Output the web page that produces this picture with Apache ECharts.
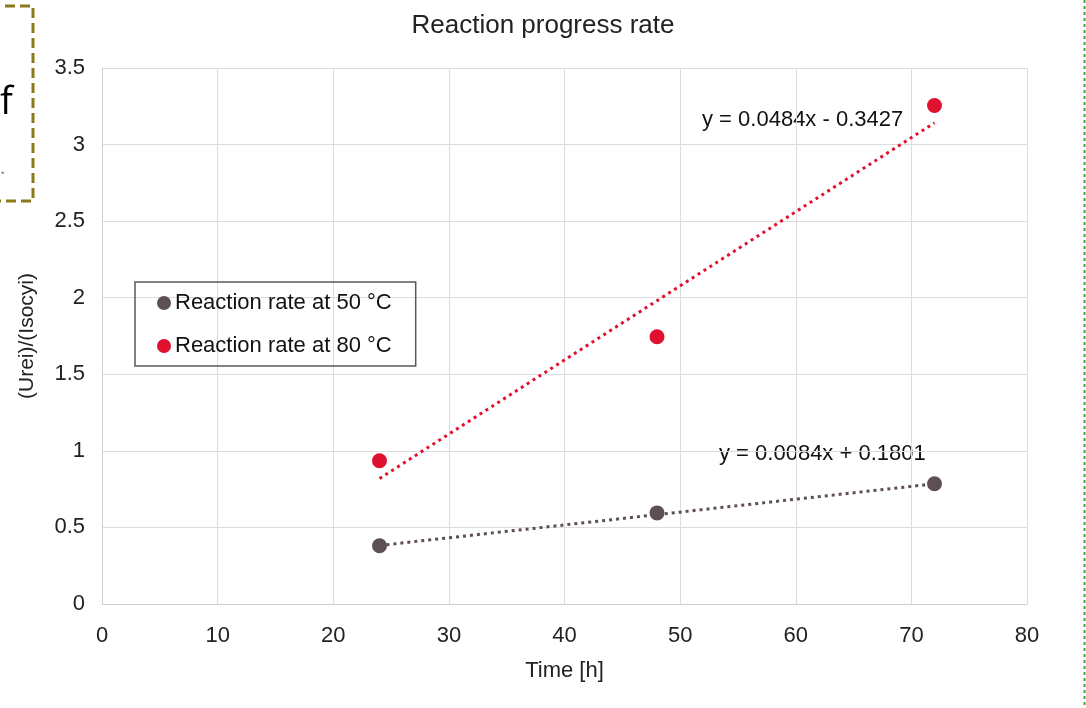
<!DOCTYPE html>
<html style="height: 100%; margin: 0">
<head>
<meta charset="UTF-8">
<title>Reaction progress rate</title>
</head>
<body style="height: 100%; margin: 0; background: #fff">
<div id="container" style="height:100%"></div>
<script type="text/javascript" src="https://cdn.jsdelivr.net/npm/echarts@6/dist/echarts.min.js"></script>
<script type="text/javascript">
	// measured points
	var rate50 = [[24, 0.38], [48, 0.595], [72, 0.785]];
	var rate80 = [[24, 0.935], [48, 1.745], [72, 3.255]];
	// linear trendline ends, as drawn
	var trend50 = [[24, 0.382], [72, 0.785]];
	var trend80 = [[24, 0.819], [72, 3.142]];
	var eq50 = 'y = 0.0084x + 0.1801';
	var eq80 = 'y = 0.0484x - 0.3427';
	var names = ['Reaction rate at 50 °C', 'Reaction rate at 80 °C'];
	var colors = ['#5d4f55', '#e0102f'];

	var font = "'Liberation Sans', Arial, sans-serif";
	var dom = document.getElementById("container");
	var myChart = echarts.init(dom);
	var option = {
	    animation: false,
	    textStyle: { fontFamily: font },
	    title: {
	        left: 'center',
	        top: 8,
	        text: 'Reaction progress rate',
	        textStyle: { color: '#222', fontSize: 26, fontWeight: 'normal', fontFamily: font }
	    },
	    grid: { left: 102, right: 59, top: 68, bottom: 104 },
	    legend: {
	        left: 135,
	        top: 282,
	        orient: 'vertical',
	        data: names,
	        icon: 'circle',
	        itemWidth: 14,
	        itemHeight: 14,
	        itemGap: 21,
	        itemStyle: { borderWidth: 0 },
	        padding: [10, 24, 9, 22],
	        borderColor: '#595959',
	        borderWidth: 1.5,
	        textStyle: { fontSize: 22, color: '#111', fontFamily: font, padding: [0, 0, 0, -1] }
	    },
	    xAxis: {
	        type: 'value',
	        min: 0,
	        max: 80,
	        interval: 10,
	        name: 'Time [h]',
	        nameLocation: 'middle',
	        nameGap: 56,
	        nameTextStyle: { fontSize: 22, color: '#222', fontFamily: font },
	        axisLine: { show: true, lineStyle: { color: '#d0d0d0' } },
	        axisTick: { show: false },
	        axisLabel: { fontSize: 22, color: '#222', fontFamily: font, margin: 21 },
	        splitLine: { lineStyle: { color: '#dcdcdc' } }
	    },
	    yAxis: {
	        type: 'value',
	        min: 0,
	        max: 3.5,
	        interval: 0.5,
	        name: '(Urei)/(Isocyi)',
	        nameLocation: 'middle',
	        nameGap: 64,
	        nameTextStyle: { fontSize: 21, color: '#222', fontFamily: font },
	        axisLine: { show: true, lineStyle: { color: '#d0d0d0' } },
	        axisTick: { show: false },
	        axisLabel: { fontSize: 22, color: '#222', fontFamily: font, margin: 17 },
	        splitLine: { lineStyle: { color: '#dcdcdc' } }
	    },
	    series: [
	        {
	            name: names[0] + ' trend',
	            type: 'line',
	            data: trend50,
	            symbol: 'none',
	            silent: true,
	            lineStyle: { color: colors[0], width: 3, type: [3, 4] },
	            z: 2
	        },
	        {
	            name: names[1] + ' trend',
	            type: 'line',
	            data: trend80,
	            symbol: 'none',
	            silent: true,
	            lineStyle: { color: colors[1], width: 3, type: [3, 4] },
	            z: 2
	        },
	        {
	            name: names[0],
	            type: 'scatter',
	            data: rate50,
	            symbolSize: 15,
	            itemStyle: { color: colors[0], opacity: 1 },
	            z: 3
	        },
	        {
	            name: names[1],
	            type: 'scatter',
	            data: rate80,
	            symbolSize: 15,
	            itemStyle: { color: colors[1], opacity: 1 },
	            z: 3
	        }
	    ],
	    graphic: [
	        {
	            type: 'text', left: 702, top: 109,
	            style: { text: eq80, fontSize: 22, fill: '#111', fontFamily: font }
	        },
	        {
	            type: 'text', left: 719, top: 443,
	            style: { text: eq50, fontSize: 22, fill: '#111', fontFamily: font }
	        },
	        {
	            type: 'rect', shape: { x: -10, y: 6, width: 43, height: 195 },
	            style: { fill: 'none', stroke: '#8a7a1c', lineWidth: 3, lineDash: [10, 5] }
	        },
	        {
	            type: 'text', left: 0, top: 84,
	            style: { text: 'f', fontSize: 38, fill: '#000', fontFamily: "'Open Sans', sans-serif" }
	        },
	        {
	            type: 'text', left: 0, top: 158,
	            style: { text: '.', fontSize: 20, fill: '#888', fontFamily: "'Open Sans', sans-serif" }
	        },
	        {
	            type: 'line', shape: { x1: 1084.5, y1: 0, x2: 1084.5, y2: 708 },
	            style: { stroke: '#3caa3c', lineWidth: 2, lineDash: [3, 3] }
	        }
	    ]
	};
	myChart.setOption(option, true);
</script>
</body>
</html>
